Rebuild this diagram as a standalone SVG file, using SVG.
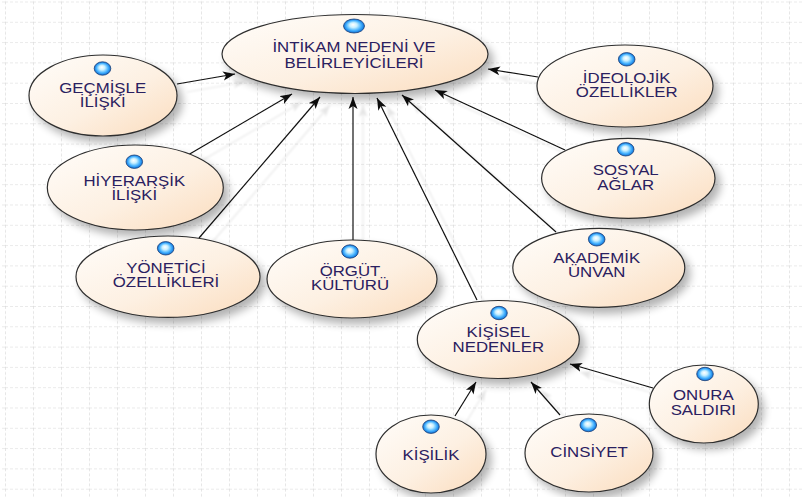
<svg xmlns="http://www.w3.org/2000/svg" width="802" height="497" viewBox="0 0 802 497">
  <defs>
    <pattern id="grid" patternUnits="userSpaceOnUse" x="5" y="1.5" width="28" height="20.3">
      <path d="M0 0 V20.3 M0 0 H28" fill="none" stroke="#d6d6d6" stroke-width="1.2" stroke-dasharray="3 2"/>
    </pattern>
    <linearGradient id="nodeFill" x1="0" y1="0" x2="1" y2="1">
      <stop offset="0" stop-color="#fffdfa"/>
      <stop offset="0.55" stop-color="#fdf0e2"/>
      <stop offset="1" stop-color="#fbdcbd"/>
    </linearGradient>
    <radialGradient id="ball" cx="0.5" cy="0.5" r="0.5" fx="0.45" fy="0.4">
      <stop offset="0" stop-color="#ffffff"/>
      <stop offset="0.35" stop-color="#c9f0ff"/>
      <stop offset="0.7" stop-color="#49b4ff"/>
      <stop offset="1" stop-color="#0a6fd8"/>
    </radialGradient>
    <filter id="nodeShadow" x="-20%" y="-20%" width="150%" height="160%">
      <feGaussianBlur in="SourceAlpha" stdDeviation="4"/>
      <feOffset dx="5" dy="6" result="b"/>
      <feComponentTransfer><feFuncA type="linear" slope="0.3"/></feComponentTransfer>
      <feMerge><feMergeNode/><feMergeNode in="SourceGraphic"/></feMerge>
    </filter>
    <filter id="lineShadow" x="-20%" y="-20%" width="150%" height="150%">
      <feGaussianBlur in="SourceAlpha" stdDeviation="0.8"/>
      <feOffset dx="10" dy="8"/>
      <feComponentTransfer><feFuncA type="linear" slope="0.1"/></feComponentTransfer>
      <feMerge><feMergeNode/><feMergeNode in="SourceGraphic"/></feMerge>
    </filter>
    <marker id="arrow" markerUnits="userSpaceOnUse" markerWidth="14" markerHeight="10" refX="12" refY="5" orient="auto">
      <path d="M0 0.5 L12 5 L0 9.5 L3 5 Z" fill="#111"/>
    </marker>
    <style>
      .node ellipse.body { fill: url(#nodeFill); stroke: #2e2e2e; stroke-width: 1.2; filter: url(#nodeShadow); }
      .node ellipse.icon { fill: url(#ball); stroke: #1d3f74; stroke-width: 0.8; }
      .node text { font-family: "Liberation Sans", Arial, sans-serif; font-size: 14px; fill: #2a2060; text-anchor: middle; }
      .edges line { stroke: #111; stroke-width: 1.2; marker-end: url(#arrow); }
    </style>
  </defs>

  <rect width="802" height="497" fill="#ffffff"/>
  <rect width="802" height="497" fill="url(#grid)"/>

  <!-- connectors -->
  <g class="edges" filter="url(#lineShadow)">
    <line x1="177" y1="84" x2="235" y2="74"/>
    <line x1="188" y1="155" x2="292" y2="94"/>
    <line x1="199" y1="238" x2="320" y2="97"/>
    <line x1="353" y1="240" x2="353" y2="97"/>
    <line x1="477" y1="300" x2="377" y2="98"/>
    <line x1="556" y1="232" x2="402" y2="95"/>
    <line x1="565" y1="150" x2="435" y2="90"/>
    <line x1="538" y1="77" x2="488" y2="69"/>
    <line x1="455" y1="416" x2="476" y2="382"/>
    <line x1="560" y1="415" x2="531" y2="382"/>
    <line x1="653" y1="388" x2="570" y2="364"/>
  </g>

  <!-- nodes -->
  <g id="intikam" class="node">
    <ellipse class="body" cx="355" cy="54" rx="133" ry="39.5"/>
    <ellipse class="icon" cx="354" cy="26" rx="10.5" ry="7"/>
    <g transform="translate(354 0) scale(1.2 1)">
      <text x="0" y="52.5">İNTİKAM NEDENİ VE</text>
      <text x="0" y="68">BELİRLEYİCİLERİ</text>
    </g>
  </g>

  <g id="gecmisle" class="node">
    <ellipse class="body" cx="103" cy="95.5" rx="74" ry="40.5"/>
    <ellipse class="icon" cx="102.5" cy="68.5" rx="8.3" ry="6.7"/>
    <g transform="translate(102.7 0) scale(1.2 1)">
      <text x="0" y="93">GEÇMİŞLE</text>
      <text x="0" y="107.5">İLİŞKİ</text>
    </g>
  </g>

  <g id="hiyerarsik" class="node">
    <ellipse class="body" cx="135.3" cy="187.5" rx="88" ry="42.5"/>
    <ellipse class="icon" cx="134.3" cy="161.7" rx="8.3" ry="6.7"/>
    <g transform="translate(134.3 0) scale(1.2 1)">
      <text x="0" y="186">HİYERARŞİK</text>
      <text x="0" y="200.5">İLİŞKİ</text>
    </g>
  </g>

  <g id="yonetici" class="node">
    <ellipse class="body" cx="168" cy="276.7" rx="92" ry="40.7"/>
    <ellipse class="icon" cx="165.7" cy="248.3" rx="8.3" ry="6.7"/>
    <g transform="translate(166 0) scale(1.2 1)">
      <text x="0" y="273">YÖNETİCİ</text>
      <text x="0" y="287.5">ÖZELLİKLERİ</text>
    </g>
  </g>

  <g id="orgut" class="node">
    <ellipse class="body" cx="352" cy="279" rx="85" ry="39"/>
    <ellipse class="icon" cx="350" cy="251.5" rx="8.3" ry="6.7"/>
    <g transform="translate(350 0) scale(1.2 1)">
      <text x="0" y="276">ÖRGÜT</text>
      <text x="0" y="290.5">KÜLTÜRÜ</text>
    </g>
  </g>

  <g id="ideolojik" class="node">
    <ellipse class="body" cx="625" cy="86" rx="88" ry="41"/>
    <ellipse class="icon" cx="626.7" cy="59.3" rx="8.3" ry="6.7"/>
    <g transform="translate(626.7 0) scale(1.2 1)">
      <text x="0" y="83">İDEOLOJİK</text>
      <text x="0" y="97.5">ÖZELLİKLER</text>
    </g>
  </g>

  <g id="sosyal" class="node">
    <ellipse class="body" cx="628.3" cy="178.3" rx="86.7" ry="40"/>
    <ellipse class="icon" cx="625.7" cy="149.3" rx="8.3" ry="6.7"/>
    <g transform="translate(625.7 0) scale(1.2 1)">
      <text x="0" y="175.5">SOSYAL</text>
      <text x="0" y="190">AĞLAR</text>
    </g>
  </g>

  <g id="akademik" class="node">
    <ellipse class="body" cx="598.8" cy="267.8" rx="86" ry="39.5"/>
    <ellipse class="icon" cx="596.7" cy="239.3" rx="8.3" ry="6.7"/>
    <g transform="translate(596.7 0) scale(1.2 1)">
      <text x="0" y="263">AKADEMİK</text>
      <text x="0" y="277.5">ÜNVAN</text>
    </g>
  </g>

  <g id="kisisel" class="node">
    <ellipse class="body" cx="498.3" cy="339.5" rx="81" ry="39"/>
    <ellipse class="icon" cx="499" cy="313" rx="8.3" ry="6.7"/>
    <g transform="translate(498.3 0) scale(1.2 1)">
      <text x="0" y="336.7">KİŞİSEL</text>
      <text x="0" y="351.7">NEDENLER</text>
    </g>
  </g>

  <g id="onura" class="node">
    <ellipse class="body" cx="703.8" cy="404" rx="54.5" ry="39"/>
    <ellipse class="icon" cx="705" cy="374" rx="8.3" ry="6.7"/>
    <g transform="translate(703.3 0) scale(1.2 1)">
      <text x="0" y="400">ONURA</text>
      <text x="0" y="415">SALDIRI</text>
    </g>
  </g>

  <g id="kisilik" class="node">
    <ellipse class="body" cx="431" cy="454" rx="55" ry="39"/>
    <ellipse class="icon" cx="431" cy="426.7" rx="8.3" ry="6.7"/>
    <g transform="translate(431 0) scale(1.2 1)">
      <text x="0" y="460">KİŞİLİK</text>
    </g>
  </g>

  <g id="cinsiyet" class="node">
    <ellipse class="body" cx="589" cy="453" rx="64" ry="39"/>
    <ellipse class="icon" cx="588.3" cy="425" rx="8.3" ry="6.7"/>
    <g transform="translate(589 0) scale(1.2 1)">
      <text x="0" y="457.3">CİNSİYET</text>
    </g>
  </g>
</svg>
